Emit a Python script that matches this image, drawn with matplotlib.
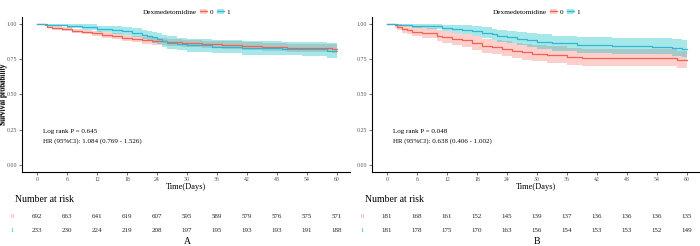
import numpy as np
import matplotlib.pyplot as plt
from matplotlib.lines import Line2D
from matplotlib.patches import Patch

plt.rcParams['font.family'] = ['Liberation Serif', 'DejaVu Serif']

RED = '#F8766D'
BLUE = '#00BFC4'
RED_LINE = '#F2624E'
BLUE_LINE = '#2FB6D3'

# ---- data ----
tA0 = [0, 1.5, 2, 3, 5, 7, 9, 11, 13, 15, 17, 19, 21, 23, 26, 29, 33, 37, 41, 45, 50, 55, 59, 60]
sA0 = [1.0, 0.99, 0.98, 0.972, 0.962, 0.952, 0.943, 0.935, 0.922, 0.912, 0.902, 0.893, 0.885,
       0.877, 0.870, 0.862, 0.855, 0.850, 0.842, 0.835, 0.831, 0.829, 0.825, 0.825]
loA0 = [1.0, 0.983, 0.97, 0.96, 0.948, 0.936, 0.926, 0.916, 0.902, 0.891, 0.88, 0.87, 0.861,
        0.852, 0.845, 0.836, 0.828, 0.823, 0.815, 0.807, 0.803, 0.801, 0.797, 0.797]
hiA0 = [1.0, 0.997, 0.99, 0.984, 0.976, 0.968, 0.96, 0.954, 0.942, 0.933, 0.924, 0.916, 0.909,
        0.902, 0.896, 0.889, 0.883, 0.878, 0.871, 0.864, 0.86, 0.858, 0.855, 0.855]

tA1 = [0, 2, 6, 9, 12, 15, 17, 19, 21, 22, 23, 24, 25, 26, 28, 30, 35, 41, 49, 53, 58, 60]
sA1 = [1.0, 0.996, 0.987, 0.978, 0.965, 0.957, 0.948, 0.940, 0.925, 0.915, 0.905, 0.893, 0.880,
       0.868, 0.858, 0.848, 0.840, 0.830, 0.826, 0.820, 0.810, 0.810]
loA1 = [1.0, 0.988, 0.972, 0.959, 0.942, 0.931, 0.92, 0.91, 0.892, 0.881, 0.869, 0.855, 0.84,
        0.826, 0.815, 0.803, 0.794, 0.783, 0.778, 0.771, 0.76, 0.76]
hiA1 = [1.0, 1.0, 1.0, 0.997, 0.989, 0.984, 0.977, 0.971, 0.959, 0.951, 0.943, 0.933, 0.922,
        0.912, 0.903, 0.895, 0.888, 0.879, 0.876, 0.871, 0.863, 0.863]

tB0 = [0, 1.5, 2, 3, 4, 5, 7, 10, 11, 13, 15, 17, 19, 21, 23, 25, 27, 29, 32, 36, 39, 58, 60]
sB0 = [1.0, 0.99, 0.978, 0.967, 0.956, 0.945, 0.934, 0.917, 0.906, 0.895, 0.884, 0.862, 0.845,
       0.834, 0.823, 0.812, 0.801, 0.790, 0.779, 0.768, 0.757, 0.746, 0.746]
loB0 = [1.0, 0.975, 0.956, 0.94, 0.926, 0.912, 0.898, 0.878, 0.865, 0.852, 0.84, 0.815, 0.796,
        0.784, 0.771, 0.759, 0.747, 0.735, 0.723, 0.711, 0.7, 0.688, 0.688]
hiB0 = [1.0, 1.0, 0.999, 0.993, 0.986, 0.978, 0.971, 0.958, 0.949, 0.94, 0.931, 0.912, 0.897,
        0.888, 0.879, 0.869, 0.86, 0.851, 0.842, 0.832, 0.823, 0.812, 0.812]

tB1 = [0, 2, 5, 8, 11, 13, 15, 17, 19, 21, 22, 24, 26, 28, 30, 33, 38, 45, 53, 57, 59, 60]
sB1 = [1.0, 0.994, 0.989, 0.983, 0.972, 0.967, 0.961, 0.950, 0.939, 0.928, 0.917, 0.906, 0.895,
       0.884, 0.873, 0.862, 0.851, 0.845, 0.840, 0.830, 0.823, 0.823]
loB1 = [1.0, 0.983, 0.974, 0.965, 0.948, 0.94, 0.932, 0.917, 0.903, 0.889, 0.876, 0.862, 0.849,
        0.836, 0.823, 0.81, 0.797, 0.79, 0.784, 0.772, 0.765, 0.765]
hiB1 = [1.0, 1.0, 1.0, 1.0, 0.995, 0.993, 0.991, 0.984, 0.976, 0.968, 0.961, 0.952, 0.944,
        0.935, 0.927, 0.918, 0.909, 0.904, 0.9, 0.892, 0.887, 0.887]

risk_times = [0, 6, 12, 18, 24, 30, 36, 42, 48, 54, 60]
riskA0 = [692, 663, 641, 619, 607, 595, 589, 579, 576, 575, 571]
riskA1 = [233, 230, 224, 219, 208, 197, 195, 193, 193, 191, 188]
riskB0 = [181, 168, 161, 152, 145, 139, 137, 136, 136, 136, 135]
riskB1 = [181, 178, 175, 170, 163, 156, 154, 153, 153, 152, 149]

panels = [
    dict(x0=22, curves=[(tA0, sA0, loA0, hiA0), (tA1, sA1, loA1, hiA1)],
         risk=[riskA0, riskA1], p='Log rank P = 0.645',
         hr='HR (95%CI): 1.084 (0.769 - 1.526)', tag='A'),
    dict(x0=372, curves=[(tB0, sB0, loB0, hiB0), (tB1, sB1, loB1, hiB1)],
         risk=[riskB0, riskB1], p='Log rank P = 0.048',
         hr='HR (95%CI): 0.638 (0.406 - 1.002)', tag='B'),
]

W, H = 700, 246
fig = plt.figure(figsize=(7, 2.46), dpi=100)

for pn in panels:
    x0 = pn['x0']
    ax = fig.add_axes([x0 / W, 1 - 172 / H, 328 / W, 155 / H])
    for (t, s, lo, hi), fc, lc in zip(pn['curves'], [RED, BLUE], [RED_LINE, BLUE_LINE]):
        ax.fill_between(t, lo, hi, step='post', color=fc, alpha=0.35, lw=0)
        ax.step(t, s, where='post', color=lc, lw=0.9)
    ax.set_xlim(-3, 62.6)
    ax.set_ylim(-0.05, 1.05)
    ax.set_xticks(risk_times)
    ax.set_yticks([0, 0.25, 0.5, 0.75, 1.0])
    ax.set_yticklabels(['0.00', '0.25', '0.50', '0.75', '1.00'])
    ax.tick_params(labelsize=4.2, labelcolor='#555555', color='#333333', length=2, width=0.5, pad=1.5)
    for sp in ['top', 'right']:
        ax.spines[sp].set_visible(False)
    for sp in ['left', 'bottom']:
        ax.spines[sp].set_linewidth(0.8)
    ax.set_xlabel('Time(Days)', fontsize=6, labelpad=0.5)
    ax.set_ylabel('Survival probability', fontsize=5.5)
    ax.yaxis.set_label_coords((7.5 - x0) / 328, 0.5)
    ax.text(1.2, 0.235, pn['p'], fontsize=5, va='center')
    ax.text(1.2, 0.17, pn['hr'], fontsize=5, va='center')

    # legend above the plot
    fig.text((x0 + 121) / W, 1 - 12 / H, 'Dexmedetomidine', fontsize=5.2, va='center')
    handles = [(Patch(facecolor=RED, alpha=0.35, lw=0), Line2D([], [], color=RED_LINE, lw=0.9)),
               (Patch(facecolor=BLUE, alpha=0.35, lw=0), Line2D([], [], color=BLUE_LINE, lw=0.9))]
    fig.legend(handles, ['0', '1'], ncol=2, frameon=False, fontsize=5.2,
               loc='center left', bbox_to_anchor=((x0 + 178) / W, 1 - 12 / H),
               handlelength=0.9, handleheight=0.7, handletextpad=0.4, columnspacing=0.6,
               borderpad=0, borderaxespad=0)

    # number at risk table
    rax = fig.add_axes([x0 / W, 1 - 240 / H, 328 / W, 30 / H])
    rax.set_xlim(-3, 62.6)
    rax.set_ylim(0, 1)
    rax.axis('off')
    fig.text((x0 - 7) / W, 1 - 200 / H, 'Number at risk', fontsize=7, va='center')
    for row, (vals, c) in enumerate(zip(pn['risk'], [RED, BLUE])):
        yy = 1 - (217 + 14 * row - 210) / 30
        rax.text(-5, yy, str(row), color=c, fontsize=4.5, ha='center', va='center')
        for tt, v in zip(risk_times, vals):
            rax.text(tt, yy, str(v), fontsize=5, ha='center', va='center', color='#222222')
    fig.text((x0 + 165) / W, 1 - 242 / H, pn['tag'], fontsize=7, ha='center', va='center')

fig.savefig('out.png', dpi=100)
